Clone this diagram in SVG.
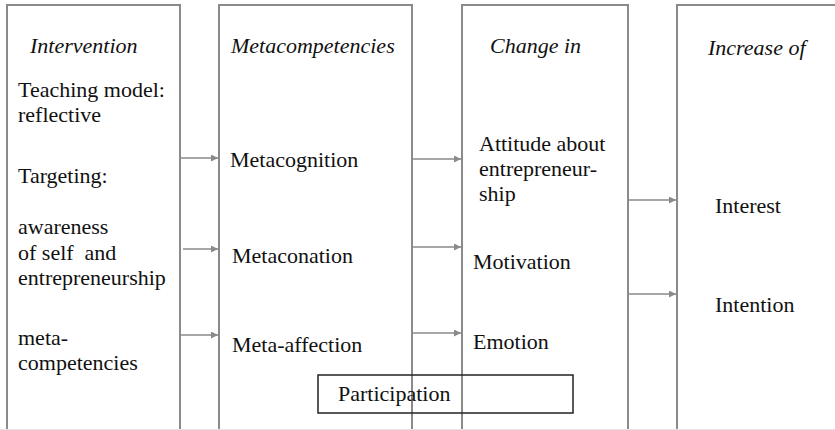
<svg xmlns="http://www.w3.org/2000/svg" width="835" height="430" viewBox="0 0 835 430">
<style>
.box{fill:#fff;stroke:#8a8a8a;stroke-width:2}
.c{stroke:#8a8a8a;stroke-width:1.3;fill:none;marker-end:url(#ah)}
text{font-family:"Liberation Serif","DejaVu Serif",serif;font-size:22px;fill:#111}
.h{font-style:italic}
</style>
<defs>
<marker id="ah" markerWidth="8" markerHeight="8" refX="7" refY="3.5" orient="auto" markerUnits="userSpaceOnUse">
<path d="M0,0 L7,3.5 L0,7 z" fill="#8a8a8a"/>
</marker>
</defs>
<rect x="0" y="0" width="835" height="430" fill="#fff"/>
<g id="intervention">
<rect class="box" x="7" y="5" width="173" height="440"/>
<text class="h" x="30" y="53">Intervention</text>
<text x="18" y="97">Teaching model:</text>
<text x="18" y="122">reflective</text>
<text x="18" y="183">Targeting:</text>
<text x="18" y="234">awareness</text>
<text x="18" y="260" xml:space="preserve">of self  and</text>
<text x="18" y="285">entrepreneurship</text>
<text x="18" y="345">meta-</text>
<text x="18" y="370">competencies</text>
</g>
<g id="metacompetencies">
<rect class="box" x="219" y="5" width="193" height="440"/>
<text class="h" x="231" y="53">Metacompetencies</text>
<text x="230" y="167">Metacognition</text>
<text x="232" y="263">Metaconation</text>
<text x="232" y="352">Meta-affection</text>
</g>
<g id="change">
<rect class="box" x="462" y="5" width="166" height="440"/>
<text class="h" x="490" y="53">Change in</text>
<text x="479" y="151">Attitude about</text>
<text x="479" y="176">entrepreneur-</text>
<text x="479" y="201">ship</text>
<text x="473" y="269">Motivation</text>
<text x="473" y="349">Emotion</text>
</g>
<g id="increase">
<rect class="box" x="677" y="5" width="180" height="440"/>
<text class="h" x="708" y="55">Increase of</text>
<text x="715" y="213">Interest</text>
<text x="715" y="312">Intention</text>
</g>
<g id="connectors">
<line class="c" x1="181" y1="158" x2="218" y2="158"/>
<line class="c" x1="183" y1="249" x2="218" y2="249"/>
<line class="c" x1="181" y1="335" x2="218" y2="335"/>
<line class="c" x1="413" y1="159" x2="461" y2="159"/>
<line class="c" x1="413" y1="247" x2="461" y2="247"/>
<line class="c" x1="413" y1="333" x2="461" y2="333"/>
<line class="c" x1="629" y1="200" x2="676" y2="200"/>
<line class="c" x1="629" y1="294" x2="676" y2="294"/>
</g>
<g id="participation">
<rect x="318" y="375" width="255" height="38" fill="none" stroke="#222" stroke-width="1.5"/>
<text x="338" y="401">Participation</text>
</g>
<line x1="0" y1="429.5" x2="835" y2="429.5" stroke="#e4e4e4" stroke-width="1"/>
</svg>
